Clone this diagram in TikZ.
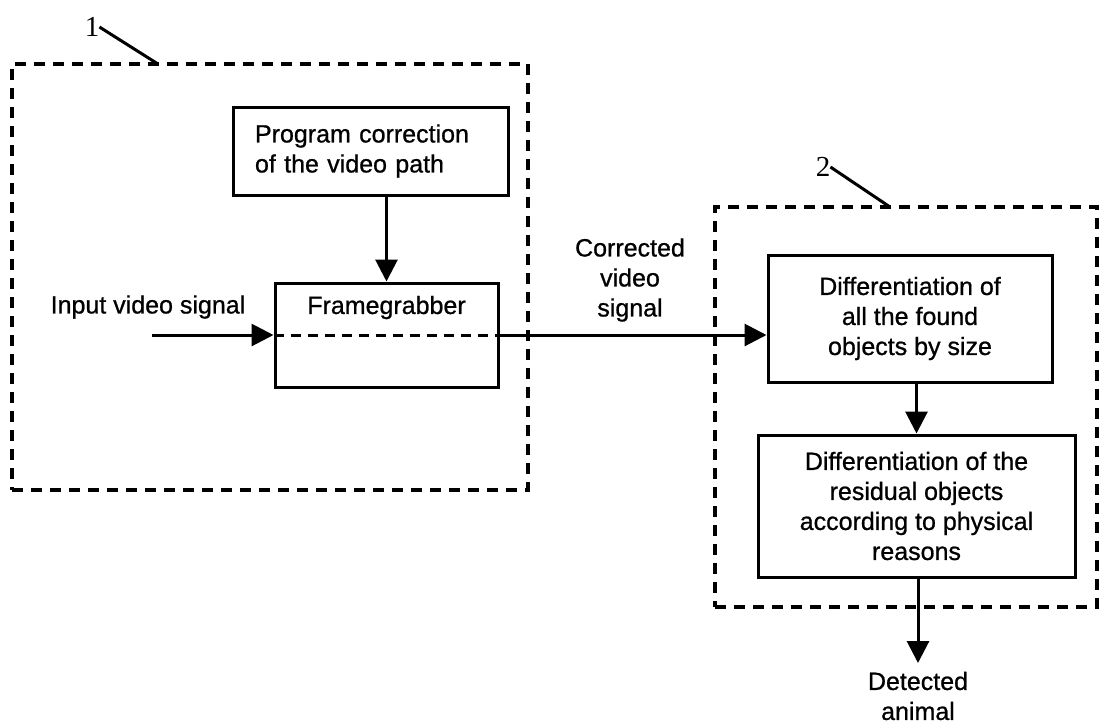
\documentclass[tikz,border=0pt]{standalone}
\usepackage{fontspec}
\setmainfont[FakeBold=0.8]{Liberation Sans}
\newfontfamily\numfont{Liberation Serif}
\usetikzlibrary{arrows.meta}

\begin{document}
\begin{tikzpicture}[x=1pt,y=-1pt,
  blk/.style={draw, line width=3pt, font=\fontsize{25}{30}\selectfont, align=center, inner sep=0pt},
  grp/.style={draw, line width=3.5pt, dash pattern=on 11pt off 8pt, inner sep=0pt},
  arr/.style={line width=3pt, -{Triangle[length=22pt,width=22pt]}},
  lbl/.style={font=\fontsize{25}{30}\selectfont, align=center, inner sep=0pt},
  refnum/.style={font=\numfont\fontsize{29}{30}\selectfont, inner sep=0pt},
  lead/.style={line width=3pt}]

\fill[white] (0,0) rectangle (1100,724);
\useasboundingbox (0,0) rectangle (1100,724);

% dashed groups
\node[grp, minimum width=516pt, minimum height=426pt] (g1) at (270,277) {};
\node[grp, minimum width=382pt, minimum height=400pt] (g2) at (906,407) {};

% reference numerals with leader lines
\node[refnum] (n1) at (92,27) {1};
\coordinate (t1) at (158,64);
\draw[lead] (n1.east) -- (t1);
\node[refnum] (n2) at (823,167) {2};
\coordinate (t2) at (890,207);
\draw[lead] (n2.east) -- (t2);

% blocks
\node[blk, minimum width=275pt, minimum height=88pt, text width=231pt, align=left] (prog) at (370.5,151)
  {Program correction\\of the video path};
\node[blk, minimum width=223pt, minimum height=104pt] (fg) at (386.5,335) {};
\node[lbl] (fgtext) at ([yshift=-26pt]fg.north) {Framegrabber};
\node[blk, minimum width=284pt, minimum height=127pt] (d1) at (910,318.5)
  {Differentiation of\\all the found\\objects by size};
\node[blk, minimum width=317pt, minimum height=142pt] (d2) at (916.5,506)
  {Differentiation of the\\residual objects\\according to physical\\reasons};

% free texts
\node[lbl] (intext) at (148,307) {Input video signal};
\node[lbl] (corrtext) at (630,280) {Corrected\\video\\signal};
\node[lbl] (det) at (918,696) {Detected\\animal};

% connectors
\coordinate (inp) at (152,335);
\draw[arr] (inp) -- (fg.west);
\draw[line width=3pt, dash pattern=on 10pt off 7pt] (fg.west) -- (fg.east);
\draw[arr] (fg.east) -- (fg.east -| d1.west);
\draw[arr] (prog.south -| fg.north) -- (fg.north);
\draw[arr] (d1.south -| d2.north) -- (d2.north);
\coordinate (outp) at (918,663);
\draw[arr] (d2.south -| outp) -- (outp);
\end{tikzpicture}
\end{document}
